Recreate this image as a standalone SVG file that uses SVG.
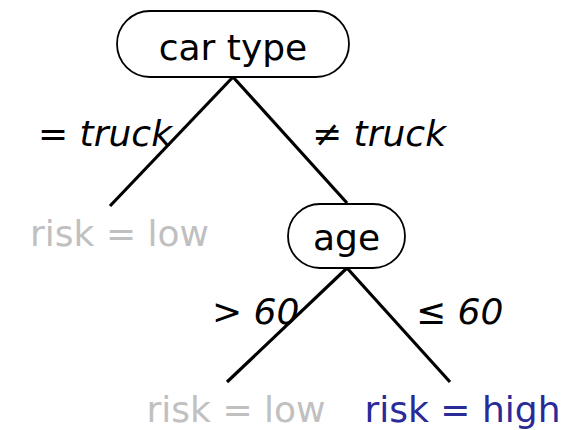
<svg xmlns="http://www.w3.org/2000/svg" width="582" height="430" viewBox="0 0 582 430">
<style>
.node{fill:#fff;stroke:#000;stroke-width:1.8}
.t{font-family:"DejaVu Sans",sans-serif;font-size:36px;text-anchor:middle}
.lbl{font-family:"DejaVu Sans",sans-serif;font-size:36px;font-style:italic}
.e{stroke:#000;stroke-width:3.2;fill:none}
</style>
<rect width="582" height="430" fill="#fff"/>
<g id="connectors">
<line class="e" x1="233" y1="77" x2="110" y2="206"/>
<line class="e" x1="233" y1="77" x2="347" y2="203"/>
<line class="e" x1="347" y1="268" x2="227" y2="382"/>
<line class="e" x1="347" y1="268" x2="450" y2="382"/>
<text class="lbl" x="38" y="146">= truck</text>
<text class="lbl" x="312" y="146">≠ truck</text>
<text class="lbl" x="212" y="324">&gt; 60</text>
<text class="lbl" x="416" y="324">≤ 60</text>
</g>
<g id="car-type">
<rect class="node" x="117" y="11" width="232" height="66" rx="33"/>
<text class="t" x="233" y="60">car type</text>
</g>
<g id="age">
<rect class="node" x="288" y="204" width="117" height="64" rx="32"/>
<text class="t" x="346.5" y="250">age</text>
</g>
<g id="risk-low-1">
<text class="t" x="119.5" y="246" fill="#c0c0c0">risk = low</text>
</g>
<g id="risk-low-2">
<text class="t" x="236" y="422" fill="#c0c0c0">risk = low</text>
</g>
<g id="risk-high">
<text class="t" x="462.5" y="422" fill="#2a2a99">risk = high</text>
</g>
</svg>
